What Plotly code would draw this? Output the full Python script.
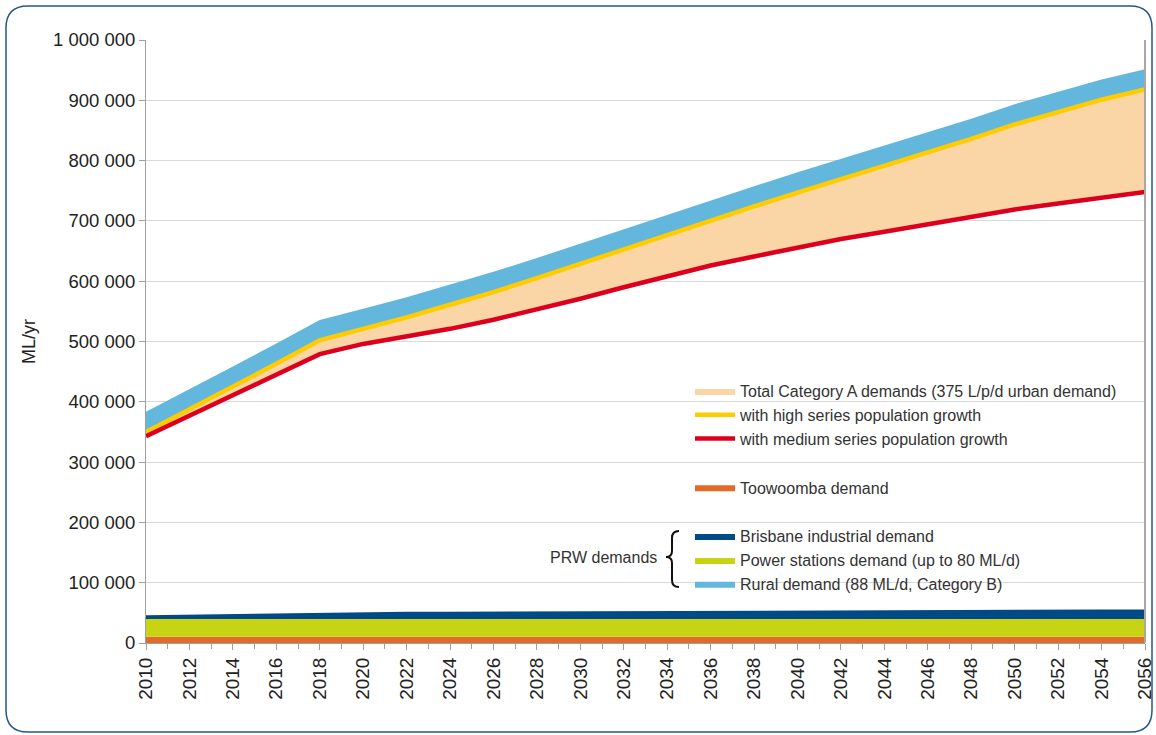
import plotly.graph_objects as go
import numpy as np

# years shown on the x axis (data read every 2 years)
years = list(range(2010, 2057, 2))

# thousand ML/yr
high_series = [350, 387, 425, 463, 502, 521, 540, 561, 582, 605, 629, 653,
               677, 701, 724, 747, 769, 791, 813, 836, 860, 881, 901, 918]
medium_series = [343, 377, 411, 446, 479, 496, 509, 521, 536, 553, 571, 590,
                 608, 626, 641, 656, 670, 682, 694, 707, 719, 729, 739, 748]
rural_demand = [33.5] * 24
toowoomba_demand = [10.5] * 24
power_demand = [29.2] * 24
industrial_demand = [6.5, 7.5, 8.5, 10, 11, 11.5, 12, 12.3, 12.6, 12.9, 13.2, 13.5,
                     13.7, 14, 14.2, 14.5, 14.7, 14.9, 15.1, 15.3, 15.5, 15.6, 15.7, 15.8]

K = 1000
high = np.array(high_series) * K
medium = np.array(medium_series) * K
rural_top = high + np.array(rural_demand) * K
too = np.array(toowoomba_demand) * K
power_top = too + np.array(power_demand) * K
ind_top = power_top + np.array(industrial_demand) * K

PEACH = '#fad6a7'
YELLOW = '#ffcc00'
RED = '#dc001e'
ORANGE = '#e36a28'
NAVY = '#004a87'
LIME = '#c8d314'
SKY = '#63b7dc'

W, H = 1156, 735
L, R, T, B = 146, 1145, 40, 643

def px(x):
    return (x - L) / (R - L)

def py(y):
    return (B - y) / (B - T)

fig = go.Figure()

# peach band between medium and high
fig.add_trace(go.Scatter(x=years, y=medium, mode='lines', line=dict(width=0),
                         showlegend=False, hoverinfo='skip'))
fig.add_trace(go.Scatter(x=years, y=high, mode='lines', line=dict(width=0),
                         fill='tonexty', fillcolor=PEACH,
                         name='Total Category A demands (375 L/p/d urban demand)',
                         legendgroup='a', legendrank=1))
# rural band on top of high series
fig.add_trace(go.Scatter(x=years, y=rural_top, mode='lines', line=dict(width=0),
                         fill='tonexty', fillcolor=SKY,
                         name='Rural demand (88 ML/d, Category B)',
                         legendgroup='c', legendrank=7))
fig.add_trace(go.Scatter(x=years, y=high, mode='lines', line=dict(color=YELLOW, width=4.5),
                         name='with high series population growth',
                         legendgroup='a', legendrank=2))
fig.add_trace(go.Scatter(x=years, y=medium, mode='lines', line=dict(color=RED, width=4.5),
                         name='with medium series population growth',
                         legendgroup='a', legendrank=3))

# bottom stack
fig.add_trace(go.Scatter(x=years, y=too, mode='lines', line=dict(width=0),
                         fill='tozeroy', fillcolor=ORANGE, name='Toowoomba demand',
                         legendgroup='b', legendrank=4))
fig.add_trace(go.Scatter(x=years, y=power_top, mode='lines', line=dict(width=0),
                         fill='tonexty', fillcolor=LIME, name='Power stations demand (up to 80 ML/d)',
                         legendgroup='c', legendrank=6))
fig.add_trace(go.Scatter(x=years, y=ind_top, mode='lines', line=dict(width=0),
                         fill='tonexty', fillcolor=NAVY, name='Brisbane industrial demand',
                         legendgroup='c', legendrank=5))

# brace for PRW demands
bx0, bx1, bxm = 679, 672, 666
brace = (f"M{px(bx0)},{py(531)} Q{px(bx1)},{py(531)} {px(bx1)},{py(538)} "
         f"L{px(bx1)},{py(551)} Q{px(bx1)},{py(557)} {px(bxm)},{py(557)} "
         f"Q{px(bx1)},{py(557)} {px(bx1)},{py(563)} "
         f"L{px(bx1)},{py(580)} Q{px(bx1)},{py(587)} {px(bx0)},{py(587)}")
fig.add_shape(type='path', path=brace, xref='paper', yref='paper',
              line=dict(color='#111111', width=2))
fig.add_annotation(x=px(659), y=py(557), xref='paper', yref='paper',
                   text='PRW demands', showarrow=False, xanchor='right', yanchor='middle',
                   font=dict(size=16, color='#333333'))

# rounded outer frame
fl, ft, fr, fb, r = 6, 6, 1152, 732, 22
frame = (f"M{px(fl + r)},{py(ft)} L{px(fr - r)},{py(ft)} Q{px(fr)},{py(ft)} {px(fr)},{py(ft + r)} "
         f"L{px(fr)},{py(fb - r)} Q{px(fr)},{py(fb)} {px(fr - r)},{py(fb)} "
         f"L{px(fl + r)},{py(fb)} Q{px(fl)},{py(fb)} {px(fl)},{py(fb - r)} "
         f"L{px(fl)},{py(ft + r)} Q{px(fl)},{py(ft)} {px(fl + r)},{py(ft)} Z")
fig.add_shape(type='path', path=frame, xref='paper', yref='paper',
              line=dict(color='#25578a', width=1.5))

fig.update_layout(
    width=W, height=H,
    margin=dict(l=L, r=W - R, t=T, b=H - B),
    plot_bgcolor='white', paper_bgcolor='white',
    separators='. ',
    font=dict(family='Arial, Liberation Sans, sans-serif', color='#222222'),
    showlegend=True,
    legend=dict(x=px(690), y=py(374), xanchor='left', yanchor='top',
                traceorder='grouped', tracegroupgap=25, itemwidth=40,
                font=dict(size=16, color='#333333'), bgcolor='rgba(0,0,0,0)'),
    xaxis=dict(range=[2010, 2056], dtick=2, tick0=2010, tickangle=-90,
               ticks='outside', ticklen=6, tickcolor='#a0a0a0', automargin=False,
               minor=dict(dtick=1, ticks='outside', ticklen=5, tickcolor='#a0a0a0'),
               showgrid=False, zeroline=False, showline=True, linecolor='#a0a0a0',
               linewidth=1, tickfont=dict(size=19, color='#222222')),
    yaxis=dict(range=[0, 1000000], dtick=100000, tickformat=',d', automargin=False,
               ticks='outside', ticklen=6, tickcolor='#a0a0a0',
               showgrid=True, gridcolor='#d9d9d9', gridwidth=1, zeroline=False,
               showline=True, linecolor='#a0a0a0', linewidth=1, mirror=False,
               tickfont=dict(size=18.5, color='#222222'),
               title=dict(text='ML/yr', standoff=12, font=dict(size=18, color='#222222'))),
)

# right border of the plot area
fig.add_shape(type='line', xref='paper', yref='paper', x0=1, x1=1, y0=0, y1=1,
              line=dict(color='#a8a8a8', width=2))

fig.write_html("out.html", config={'displayModeBar': False},
               post_script="document.body.style.margin='0';")
